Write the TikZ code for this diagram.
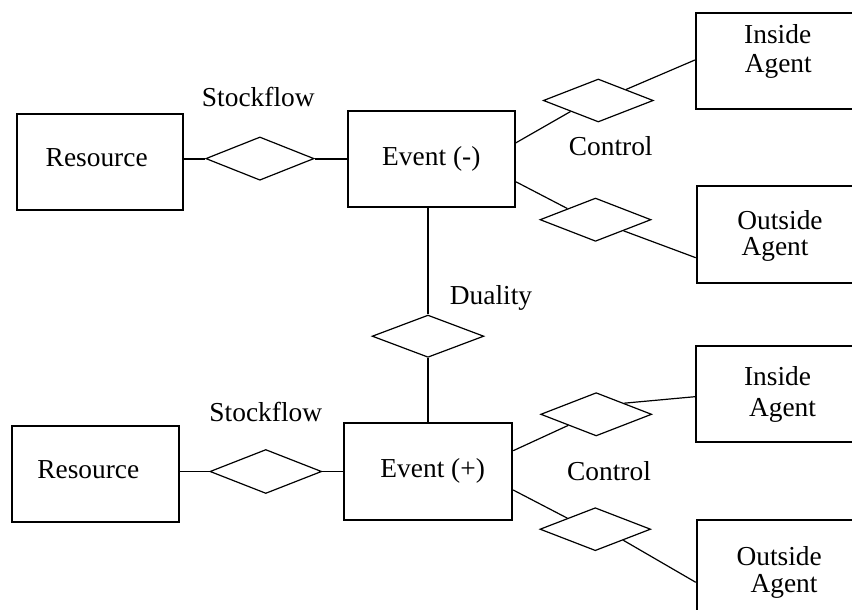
\documentclass[tikz,border=0pt]{standalone}
\usepackage{fontspec}
\setmainfont{Liberation Serif}
\usetikzlibrary{shapes.geometric}
\tikzset{
  ent/.style={draw, line width=1.8pt, inner sep=0pt},
  rel/.style={draw, diamond, line width=1.2pt, inner sep=0pt},
  txt/.style={anchor=base, inner sep=0pt, font=\fontsize{27.4}{31}\selectfont},
  thick link/.style={line width=1.8pt},
  thin link/.style={line width=1.2pt},
}
\begin{document}
\begin{tikzpicture}[x=1pt,y=-1pt]
\useasboundingbox (0,0) rectangle (852,610);
\clip (0,0) rectangle (852,610);
% ---------- top half ----------
\node[ent, minimum width=166pt, minimum height=95.7pt] (res1) at (99.7,162.2) {};
\node[rel, minimum width=108.3pt, minimum height=43.3pt] (sf1) at (259.9,158.6) {};
\node[ent, minimum width=166.7pt, minimum height=95.7pt] (ev1) at (431.7,158.8) {};
\node[ent, minimum width=164pt, minimum height=96pt] (ia1) at (777.8,61) {};
\node[ent, minimum width=163.3pt, minimum height=96.7pt] (oa1) at (778.3,234.3) {};
\node[rel, minimum width=110pt, minimum height=43pt] (c1) at (598.3,100.5) {};
\node[rel, minimum width=111pt, minimum height=43.3pt] (c2) at (595.5,219.7) {};
\node[rel, minimum width=111.7pt, minimum height=42.3pt] (du) at (428,336.2) {};
% ---------- bottom half ----------
\node[ent, minimum width=166.7pt, minimum height=95.7pt] (res2) at (95.7,473.8) {};
\node[rel, minimum width=111.7pt, minimum height=44pt] (sf2) at (265.8,471.5) {};
\node[ent, minimum width=168pt, minimum height=97pt] (ev2) at (428.3,471.5) {};
\node[ent, minimum width=164pt, minimum height=96pt] (ia2) at (777.8,393.7) {};
\node[ent, minimum width=163.3pt, minimum height=96pt] (oa2) at (778.3,568) {};
\node[rel, minimum width=111pt, minimum height=43.3pt] (c3) at (596.2,414.3) {};
\node[rel, minimum width=110.7pt, minimum height=43pt] (c4) at (595.3,529.2) {};
% ---------- texts ----------
\node[txt] (tres1) at (96.7,166) {Resource};
\node[txt] (tev1) at (431.3,165.7) {Event (-)};
\node[txt] (tsf1) at (258.3,106.7) {Stockflow};
\node[txt] (tctl1) at (610.7,155) {Control};
\node[txt] (tia1a) at (777.7,43.3) {Inside};
\node[txt] (tia1b) at (778.3,72.7) {Agent};
\node[txt] (toa1a) at (780,229) {Outside};
\node[txt] (toa1b) at (775,255) {Agent};
\node[txt] (tdu) at (491,304.3) {Duality};
\node[txt] (tres2) at (88.3,478.3) {Resource};
\node[txt] (tev2) at (432.7,477.7) {Event (+)};
\node[txt] (tsf2) at (265.8,421.7) {Stockflow};
\node[txt] (tctl2) at (609,480) {Control};
\node[txt] (tia2a) at (777.5,385) {Inside};
\node[txt] (tia2b) at (782.5,416) {Agent};
\node[txt] (toa2a) at (779.2,565) {Outside};
\node[txt] (toa2b) at (784,592) {Agent};
% ---------- connectors ----------
\draw[thick link] (res1.east |- sf1.west) -- (sf1.west);
\draw[thick link] (sf1.east) -- (sf1.east -| ev1.west);
\draw[thin link] ([yshift=16pt]ev1.east) -- (c1.south west);
\draw[thin link] (c1.north east) -- ([yshift=1pt]ia1.west);
\draw[thin link] ([yshift=-23pt]ev1.east) -- (c2.north west);
\draw[thin link] (c2.south east) -- ([yshift=-23.4pt]oa1.west);
\draw[thick link] (du.north) -- (du.north |- ev1.south);
\draw[thick link] (du.south) -- (du.south |- ev2.north);
\draw[thick link] (res2.east |- sf2.west) -- (sf2.west);
\draw[thick link] (sf2.east) -- (sf2.east -| ev2.west);
\draw[thin link] ([yshift=20.8pt]ev2.east) -- (c3.south west);
\draw[thin link] (c3.north east) -- ([yshift=-3pt]ia2.west);
\draw[thin link] ([yshift=-18.5pt]ev2.east) -- (c4.north west);
\draw[thin link] (c4.south east) -- ([yshift=-14.3pt]oa2.west);
\end{tikzpicture}
\end{document}
